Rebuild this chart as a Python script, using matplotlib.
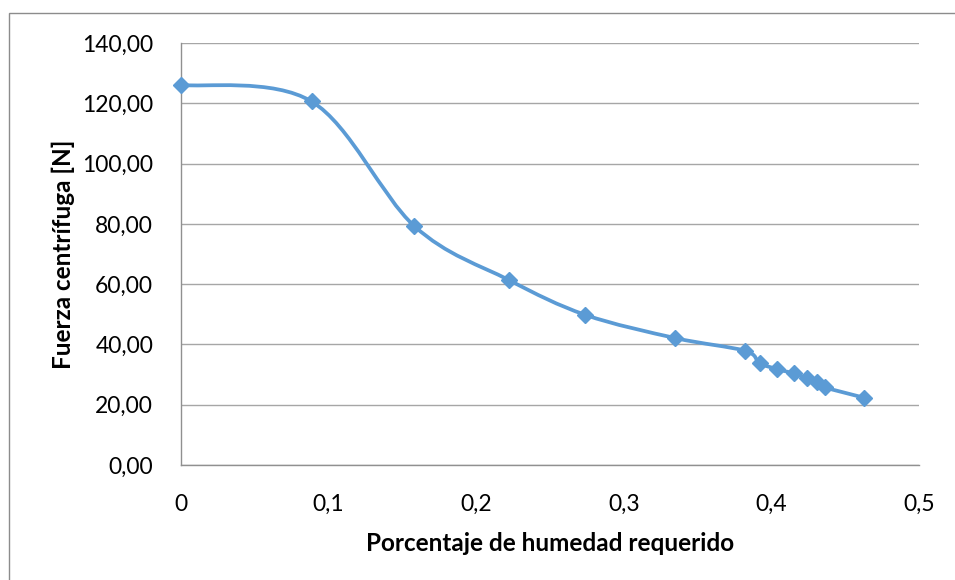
import numpy as np
import matplotlib
matplotlib.use("Agg")
import matplotlib.pyplot as plt
from matplotlib.path import Path
from matplotlib.patches import PathPatch, Rectangle

# Data
humedad = [0.0, 0.0885, 0.158, 0.222, 0.274, 0.335, 0.382, 0.392, 0.404,
           0.415, 0.424, 0.431, 0.436, 0.463]
fuerza = [126.1, 120.6, 79.3, 61.4, 49.8, 42.1, 37.9, 33.8, 31.8,
          30.4, 28.8, 27.5, 25.8, 22.3]
yticks = [0, 20, 40, 60, 80, 100, 120, 140]
xticks = [0, 0.1, 0.2, 0.3, 0.4, 0.5]
ytick_labels = ["0,00", "20,00", "40,00", "60,00", "80,00", "100,00", "120,00", "140,00"]
xtick_labels = ["0", "0,1", "0,2", "0,3", "0,4", "0,5"]

BLUE = "#5B9BD5"
FONT = ["Lato", "DejaVu Sans"]
plt.rcParams["font.family"] = FONT

fig = plt.figure(figsize=(9.55, 5.8), dpi=100)
# outer chart frame (left & top visible)
fig.patches.append(Rectangle((9 / 955, -0.1), 1.2, 1 - 13 / 580 + 0.1,
                             transform=fig.transFigure, fill=False,
                             edgecolor="#8C8C8C", linewidth=1.0))
ax = fig.add_axes([181 / 955, 1 - 465 / 580, (919 - 181) / 955, (465 - 43) / 580])

# Smoothed (Catmull-Rom style Bezier) line through the points
P = np.column_stack([humedad, fuerza])
verts = [tuple(P[0])]
codes = [Path.MOVETO]
n = len(P)
for i in range(n - 1):
    p0 = P[i - 1] if i > 0 else P[i]
    p1 = P[i]
    p2 = P[i + 1]
    p3 = P[i + 2] if i + 2 < n else P[i + 1]
    c1 = p1 + (p2 - p0) / 6.0
    c2 = p2 - (p3 - p1) / 6.0
    verts += [tuple(c1), tuple(c2), tuple(p2)]
    codes += [Path.CURVE4, Path.CURVE4, Path.CURVE4]
ax.add_patch(PathPatch(Path(verts, codes), facecolor="none", edgecolor=BLUE,
                       linewidth=2.7, zorder=3, capstyle="round", joinstyle="round"))
ax.plot(humedad, fuerza, linestyle="none", marker="D", markersize=8,
        color=BLUE, zorder=4, clip_on=False)

ax.set_xlim(0, 0.5)
ax.set_ylim(0, 140)
ax.set_yticks(yticks)
ax.set_yticklabels(ytick_labels)
ax.set_xticks(xticks)
ax.set_xticklabels(xtick_labels)
ax.tick_params(length=0, labelsize=16.5, colors="black")
ax.tick_params(axis="y", pad=20)
ax.tick_params(axis="x", pad=21)
ax.grid(axis="y", color="#A6A6A6", linewidth=1.0)
ax.set_axisbelow(True)
for s in ["top", "right"]:
    ax.spines[s].set_visible(False)
for s in ["left", "bottom"]:
    ax.spines[s].set_color("#909090")
    ax.spines[s].set_linewidth(1.0)

ax.set_xlabel("Porcentaje de humedad requerido", fontsize=17.5, fontweight="bold", labelpad=12)
ax.set_ylabel("Fuerza centrífuga [N]", fontsize=17.5, fontweight="bold", labelpad=5)

fig.savefig("out.png", dpi=100)
